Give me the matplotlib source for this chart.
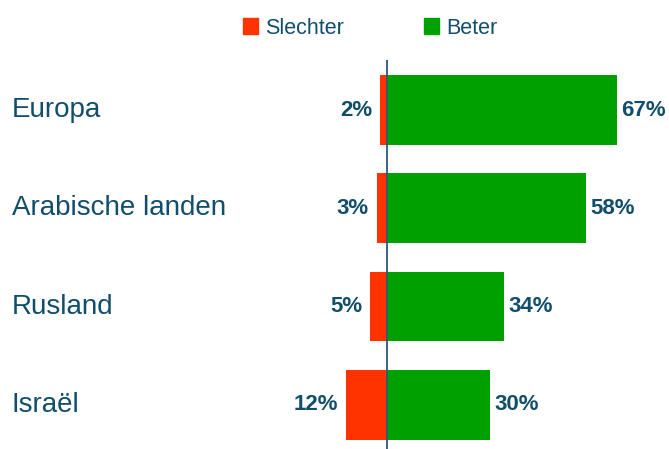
import matplotlib.pyplot as plt
from matplotlib.patches import Patch
from matplotlib.transforms import blended_transform_factory

plt.rcParams['font.family'] = ['Liberation Sans', 'DejaVu Sans']

# data
categories = ['Europa', 'Arabische landen', 'Rusland', 'Israël']
slechter = [2, 3, 5, 12]
beter = [67, 58, 34, 30]

red = '#FF3300'
green = '#00A000'
txt = '#114E6C'

fig = plt.figure(figsize=(6.69, 4.49), dpi=100)
# axes spans the full width; bottom part of figure under the legend
ax = fig.add_axes([0, 0, 1, 1 - 60 / 449])

ypos = list(range(len(categories)))
ax.barh(ypos, [-v for v in slechter], height=0.71, color=red)
ax.barh(ypos, beter, height=0.71, color=green)
ax.axvline(0, color='#2B5B75', lw=1.3)

ax.set_xlim(-112.8, 82.2)
ax.set_ylim(3.45, -0.51)
ax.axis('off')

for y, v in zip(ypos, slechter):
    ax.annotate(f'{v}%', (-v, y), xytext=(-5.5, 0), textcoords='offset points',
                ha='right', va='center', fontsize=16, fontweight='bold', color=txt)
for y, v in zip(ypos, beter):
    ax.annotate(f'{v}%', (v, y), xytext=(3.2, 0), textcoords='offset points',
                ha='left', va='center', fontsize=16, fontweight='bold', color=txt)

trans = blended_transform_factory(ax.transAxes, ax.transData)
for y, c in zip(ypos, categories):
    ax.text(12 / 669, y, c, transform=trans, ha='left', va='center',
            fontsize=20, color=txt)

handles = [Patch(color=red, label='Slechter'), Patch(color=green, label='Beter')]
leg = fig.legend(handles=handles, loc='center', ncol=2, frameon=False,
                 bbox_to_anchor=(370 / 669, 1 - 28 / 449), fontsize=15.5,
                 handlelength=0.7, handleheight=0.7, handletextpad=0.35,
                 columnspacing=3.7)
for t in leg.get_texts():
    t.set_color(txt)

fig.savefig('out.png', dpi=100)
